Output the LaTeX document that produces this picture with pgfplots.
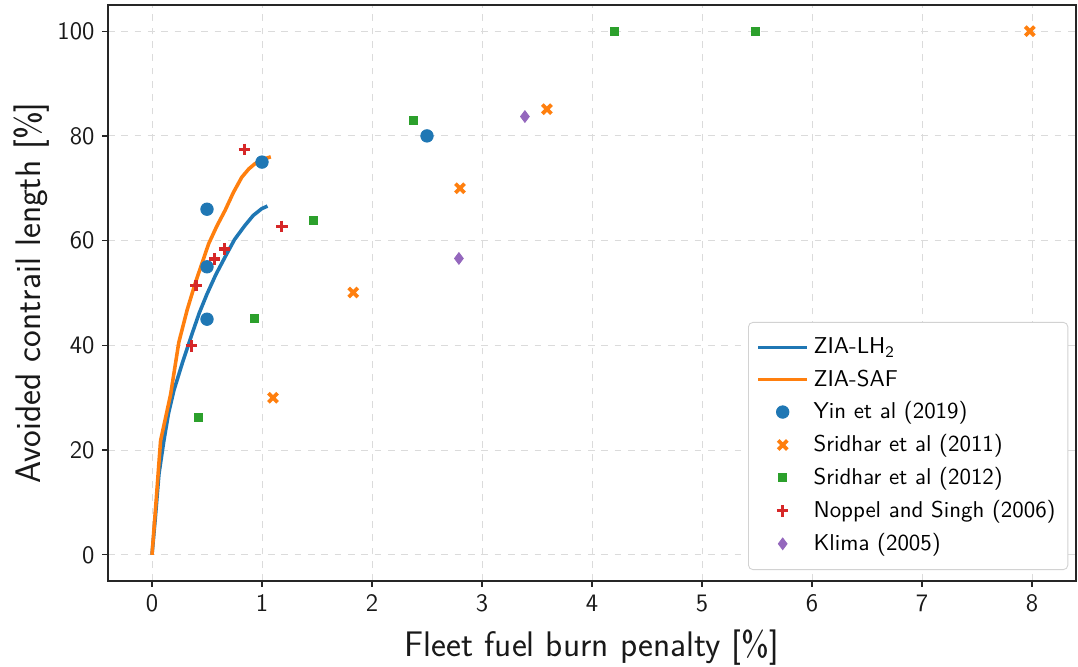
\documentclass[border=0pt]{standalone}
\usepackage{pgfplots}
\pgfplotsset{compat=1.18}
\renewcommand{\familydefault}{\sfdefault}
\definecolor{tBlue}{HTML}{1F77B4}
\definecolor{tOrange}{HTML}{FF7F0E}
\definecolor{tGreen}{HTML}{2CA02C}
\definecolor{tRed}{HTML}{D62728}
\definecolor{tPurple}{HTML}{9467BD}
\pgfplotsset{
  linelegend/.style={legend image code/.code={\draw[##1] (0cm,0cm) -- (0.78cm,0cm);}},
  marklegend/.style={legend image code/.code={\draw[##1,only marks] plot coordinates {(0.39cm,0cm)};}},
}
\begin{document}
\begin{tikzpicture}
\begin{axis}[
  scale only axis,
  width=435.6pt, height=259.2pt,
  xmin=-0.4, xmax=8.4, ymin=-5, ymax=105,
  xtick={0,1,2,3,4,5,6,7,8},
  ytick={0,20,40,60,80,100},
  /pgf/number format/assume math mode=true,
  ticklabel style={font=\fontsize{11.3}{13}\selectfont\sffamily, text=black!90},
  label style={font=\fontsize{16}{19}\selectfont\sffamily, text=black!90},
  xlabel={Fleet fuel burn penalty [\%]},
  ylabel={Avoided contrail length [\%]},
  xlabel style={at={(axis description cs:0.5,-0.1302)}, anchor=base},
  ylabel style={at={(axis description cs:-0.0785,0.5)}, anchor=center},
  xtick pos=bottom, ytick pos=left,
  tick align=outside,
  major tick length=2.6pt,
  tick style={black!85, line width=0.6pt},
  axis line style={black!85, line width=0.6pt},
  grid=major,
  major grid style={dashed, gray!28, line width=0.4pt},
  legend style={at={(0.992,0.019)}, anchor=south east, font=\fontsize{10.3}{12.3}\selectfont\sffamily,
    draw=gray!35, rounded corners=2pt, fill=white, row sep=1.6pt, inner ysep=5pt, inner xsep=3.5pt},
  legend cell align=left,
]
\addplot[tBlue, line width=1.6pt, linelegend] coordinates {
 (0,0) (0.03,7) (0.063,15.4) (0.108,21.8) (0.15,27) (0.199,31.4) (0.274,36.5) (0.364,42.2) (0.43,46.2) (0.5,49.8) (0.58,53.5) (0.665,56.9) (0.75,60.2) (0.845,62.9) (0.92,64.8) (0.997,66.1) (1.05,66.6)};
\addlegendentry{ZIA-LH\textsubscript{2}}
\addplot[tOrange, line width=1.6pt, linelegend] coordinates {
 (0,0) (0.04,11) (0.078,21.8) (0.169,30.6) (0.244,40.6) (0.32,46.8) (0.395,52.0) (0.515,59.4) (0.59,62.8) (0.665,65.8) (0.74,69.2) (0.816,72.1) (0.88,73.7) (0.937,74.7) (1.0,75.5) (1.08,76.0)};
\addlegendentry{ZIA-SAF}
\addplot[only marks, marklegend, mark=*, mark size=2.8pt, color=tBlue] coordinates {
 (0.5,66) (0.5,55) (0.5,45) (1.0,75) (2.5,80)};
\addlegendentry{Yin et al (2019)}
\addplot[only marks, marklegend, mark=x, mark size=2.9pt, color=tOrange, mark options={line width=1.7pt}] coordinates {
 (1.10,30) (1.83,50.1) (2.80,70) (3.59,85.1) (7.98,100)};
\addlegendentry{Sridhar et al (2011)}
\addplot[only marks, marklegend, mark=square*, mark size=1.8pt, color=tGreen] coordinates {
 (0.42,26.2) (0.93,45.1) (1.465,63.9) (2.38,83) (4.20,100) (5.49,100)};
\addlegendentry{Sridhar et al (2012)}
\addplot[only marks, marklegend, mark=+, mark size=2.6pt, color=tRed, mark options={line width=1.4pt}] coordinates {
 (0.36,39.9) (0.40,51.4) (0.57,56.5) (0.66,58.4) (0.84,77.4) (1.18,62.7)};
\addlegendentry{Noppel and Singh (2006)}
\addplot[only marks, marklegend, mark=diamond*, mark size=2.6pt, color=tPurple] coordinates {
 (2.79,56.6) (3.39,83.7)};
\addlegendentry{Klima (2005)}
\end{axis}
\pgfresetboundingbox
\path (current axis.south west) ++(-48.6pt,-38.25pt) coordinate (bbA);
\path (current axis.north east) ++(0.9pt,2.25pt) coordinate (bbB);
\useasboundingbox (bbA) rectangle (bbB);
\end{tikzpicture}
\end{document}
